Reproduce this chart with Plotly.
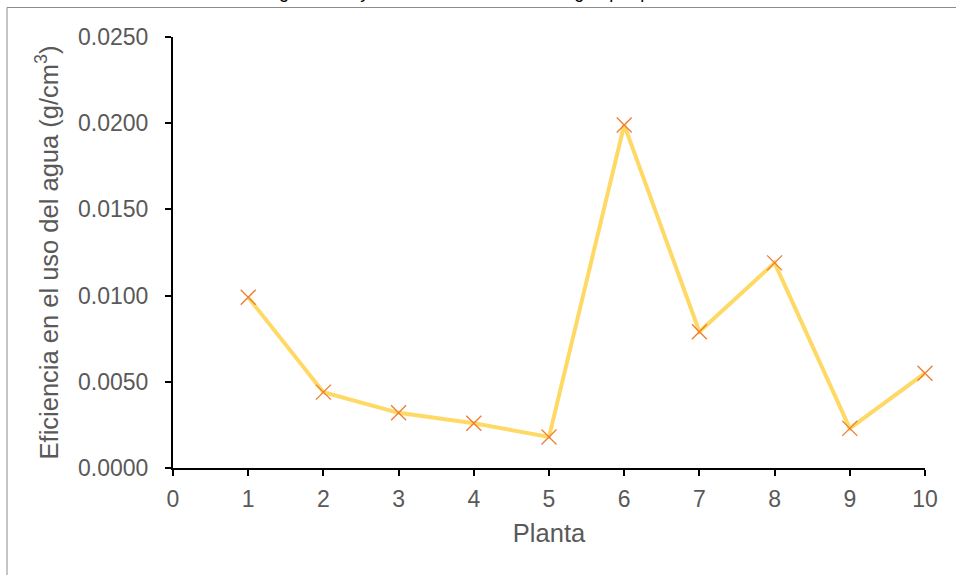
import plotly.graph_objects as go

# Water-use efficiency per plant
plantas = [1, 2, 3, 4, 5, 6, 7, 8, 9, 10]
eficiencia = [0.0099, 0.0044, 0.0032, 0.0026, 0.0018, 0.0199, 0.0079, 0.0119, 0.0023, 0.0055]

x_ticks = [0, 1, 2, 3, 4, 5, 6, 7, 8, 9, 10]
y_ticks = [0.0, 0.005, 0.010, 0.015, 0.020, 0.025]

titulo = "Biomasa seca generada y volumen consumido de agua por planta"
FONT = "Arial, Liberation Sans, sans-serif"
GRAY = "#595959"

L, R, T, B = 173, 31, 37, 107
W, H = 956, 575
pw = W - L - R
ph = H - T - B

fig = go.Figure()
fig.add_trace(go.Scatter(
    x=plantas, y=eficiencia, mode="lines+markers",
    line=dict(color="#FFD966", width=4),
    marker=dict(symbol="x-thin", size=15, line=dict(color="#ED7D31", width=1.3), color="#ED7D31"),
    showlegend=False, cliponaxis=False,
))

fig.update_layout(
    width=W, height=H,
    margin=dict(l=L, r=R, t=T, b=B),
    paper_bgcolor="white", plot_bgcolor="white",
    font=dict(family=FONT, color=GRAY),
    xaxis=dict(
        range=[0, 10], tickvals=x_ticks, ticktext=[str(v) for v in x_ticks],
        showgrid=False, zeroline=False, showline=True, linecolor="black", linewidth=2,
        ticks="outside", ticklen=6, tickwidth=2, tickcolor="black",
        ticklabelstandoff=3,
        tickfont=dict(size=23, color=GRAY, family=FONT),
        title=dict(text="Planta", font=dict(size=25.5, color=GRAY, family=FONT), standoff=14),
    ),
    yaxis=dict(
        range=[0, 0.025], tickvals=y_ticks, tickformat=".4f",
        showgrid=False, zeroline=False, showline=True, linecolor="black", linewidth=2,
        ticks="outside", ticklen=6, tickwidth=2, tickcolor="black",
        ticklabelstandoff=12,
        tickfont=dict(size=23, color=GRAY, family=FONT),
        title=dict(text="Eficiencia en el uso del agua (g/cm<sup>3</sup>)",
                   font=dict(size=25.5, color=GRAY, family=FONT), standoff=12),
    ),
)

# chart frame (left and top edges)
fig.add_shape(type="rect", xref="paper", yref="paper",
              x0=(7 - L) / pw, x1=(W + 5 - L) / pw,
              y0=-(B + 5) / ph, y1=1 + (T - 7.5) / ph,
              line=dict(color="#8c8c8c", width=1), fillcolor="rgba(0,0,0,0)", layer="below")

# chart title
fig.add_annotation(text=titulo, xref="paper", yref="paper",
                   x=(425 - L) / pw, y=1 + (T - 4) / ph, xanchor="center", yanchor="bottom",
                   showarrow=False, font=dict(size=18, color="black", family=FONT))

fig.write_html("out.html")
